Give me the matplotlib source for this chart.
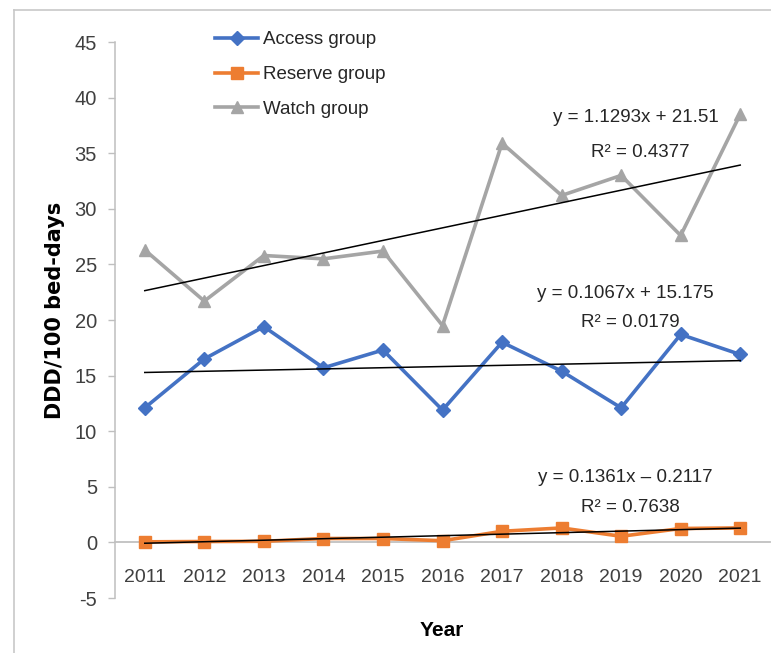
import matplotlib
matplotlib.use('Agg')
import matplotlib.pyplot as plt
from matplotlib.lines import Line2D

# values (DDD/100 bed-days)
years = ['2011', '2012', '2013', '2014', '2015', '2016', '2017', '2018', '2019', '2020', '2021']
access = [12.1, 16.5, 19.4, 15.7, 17.3, 11.9, 18.0, 15.4, 12.1, 18.7, 16.9]
reserve = [0.05, 0.08, 0.1, 0.35, 0.35, 0.15, 1.0, 1.3, 0.55, 1.25, 1.3]
watch = [26.3, 21.7, 25.8, 25.5, 26.2, 19.5, 35.9, 31.2, 33.0, 27.6, 38.5]

# linear trend lines as printed on the chart (x = 1..n)
slopes = [0.1067, 0.1361, 1.1293]
intercepts = [15.175, -0.2117, 21.51]
eq_labels = ['y = 0.1067x + 15.175', 'y = 0.1361x \u2013 0.2117', 'y = 1.1293x + 21.51']
r2_labels = ['R\u00b2 = 0.0179', 'R\u00b2 = 0.7638', 'R\u00b2 = 0.4377']

plt.rcParams['font.family'] = ['Liberation Sans', 'DejaVu Sans']
plt.rcParams['font.size'] = 13.5
plt.rcParams['axes.unicode_minus'] = False

fig = plt.figure(figsize=(7.71, 6.53), dpi=100)
ax = fig.add_axes([115 / 771, 1 - 598 / 653, 655 / 771, 556 / 653])

x = list(range(len(years)))
ax.plot(x, access, color='#4472C4', lw=2.6, marker='D', ms=7, label='Access group', zorder=3)
ax.plot(x, reserve, color='#ED7D31', lw=2.6, marker='s', ms=8, label='Reserve group', zorder=3)
ax.plot(x, watch, color='#A5A5A5', lw=2.6, marker='^', ms=9, label='Watch group', zorder=3)

# trend lines
for s, b in zip(slopes, intercepts):
    tx = [x[0], x[-1]]
    ty = [s * (x[0] + 1) + b, s * (x[-1] + 1) + b]
    ax.plot(tx, ty, color='black', lw=1.1, zorder=4)

# equation labels
eq_pos = [(8.07, 22.4, 19.8), (8.07, 5.8, 3.1), (8.24, 38.2, 35.1)]
for (px, ey, ry), eq, r2 in zip(eq_pos, eq_labels, r2_labels):
    ax.text(px, ey, eq, ha='center', va='center', fontsize=13.5, color='#262626')
    ax.text(px + 0.08, ry, r2, ha='center', va='center', fontsize=13.5, color='#262626')

ax.set_xlim(-0.5, len(years) - 0.5)
ax.set_ylim(-5, 45)
ax.set_yticks(range(-5, 46, 5))
ax.set_xticks(x)
ax.set_xticklabels(years)

ax.spines['top'].set_visible(False)
ax.spines['right'].set_visible(False)
ax.spines['bottom'].set_position(('data', 0))
ax.spines['bottom'].set_color('#C0C0C0')
ax.spines['bottom'].set_linewidth(1.3)
ax.spines['left'].set_color('#BFBFBF')
ax.spines['left'].set_linewidth(1.1)
ax.tick_params(axis='y', direction='out', length=5, width=1, color='#BFBFBF',
               labelcolor='#404040', labelsize=14.5, pad=8)
ax.tick_params(axis='x', length=0, labelcolor='#404040', labelsize=14, pad=19)

fig.text(55 / 771, 1 - 310 / 653, 'DDD/100 bed-days', rotation=90, ha='center', va='center',
         fontsize=15, fontweight='bold', family=['DejaVu Sans'], color='black')
fig.text(442 / 771, 1 - 630 / 653, 'Year', ha='center', va='center',
         fontsize=15, fontweight='bold', color='black')

ax.legend(loc='upper left', bbox_to_anchor=(215 / 771, 1 - 31 / 653), bbox_transform=fig.transFigure,
          frameon=False, fontsize=13.5, handlelength=2.3, handletextpad=0.25,
          labelspacing=0.95, borderpad=0, borderaxespad=0, labelcolor='#262626')

# light outer frame (left and top edges visible)
fig.add_artist(Line2D([14 / 771, 14 / 771], [0, 1 - 10 / 653], transform=fig.transFigure,
                      color='#C8C8C8', lw=1.2))
fig.add_artist(Line2D([14 / 771, 1], [1 - 10 / 653, 1 - 10 / 653], transform=fig.transFigure,
                      color='#C8C8C8', lw=1.2))

fig.savefig('out.png', dpi=100)
